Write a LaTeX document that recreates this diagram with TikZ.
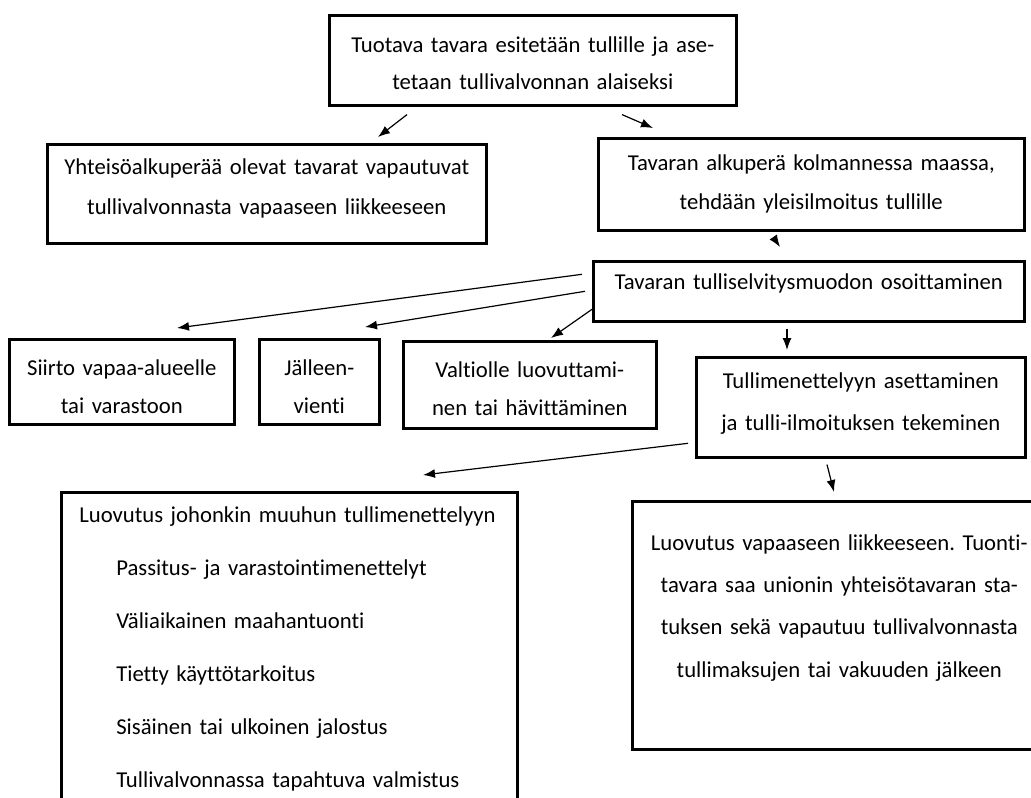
\documentclass[tikz,border=0pt]{standalone}
\usepackage{fontspec}
\setmainfont{Carlito}[Ligatures=NoCommon]
\usetikzlibrary{arrows.meta}

\tikzset{
  box/.style={draw, line width=2.6pt, anchor=north west, inner sep=0pt,
    align=center, font=\fontsize{22.7}{40}\selectfont},
  lines/.style={font=\fontsize{22.7}{#1}\selectfont},
  arr/.style={-{Latex[length=12pt,width=9pt]}, line width=1.2pt}
}

\begin{document}
\frenchspacing
\begin{tikzpicture}[x=1pt, y=-1pt]
        \path[use as bounding box, fill=white] (0,0) rectangle (1031,798);
        \clip (0,0) rectangle (1031,798);

        % upper part
        \node[box, text width=407pt, text height=37pt, text depth=53pt, lines=37] (tuonti) at (328,14)
            {Tuotava tavara esitetään tullille ja ase-\\tetaan tullivalvonnan alaiseksi};
        \node[box, text width=439pt, text height=30pt, text depth=69pt] (yhteiso) at (46,143)
            {Yhteisöalkuperää olevat tavarat vapautuvat\\tullivalvonnasta vapaaseen liikkeeseen};
        \node[box, text width=426pt, text height=32pt, text depth=60pt, lines=39] (alkupera) at (597,137)
            {Tavaran alkuperä kolmannessa maassa,\\tehdään yleisilmoitus tullille};
        \node[box, text width=431pt, text height=28pt, text depth=32pt] (selvitys) at (592,260)
            {Tavaran tulliselvitysmuodon osoittaminen};

        % middle row
        \node[box, text width=225pt, text height=36pt, text depth=49pt, lines=38] (siirto) at (8,338)
            {Siirto vapaa-alueelle\\tai varastoon};
        \node[box, text width=120pt, text height=36pt, text depth=49pt, lines=38] (jalleen) at (258,338)
            {Jälleen-\\vienti};
        \node[box, text width=253pt, text height=36pt, text depth=51pt, lines=38] (valtio) at (402,340)
            {Valtiolle luovuttami-\\nen tai hävittäminen};
        \node[box, text width=329pt, text height=31pt, text depth=69pt, lines=42] (menettely) at (695,356)
            {Tullimenettelyyn asettaminen\\ja tulli-ilmoituksen tekeminen};

        % lower part
        \node[box, text width=420pt, align=left, inner xsep=18pt, text height=30pt, text depth=320pt,
              lines=53] (muu) at (60,491)
            {Luovutus johonkin muuhun tullimenettelyyn\\
             \hspace*{37pt}Passitus- ja varastointimenettelyt\\
             \hspace*{37pt}Väliaikainen maahantuonti\\
             \hspace*{37pt}Tietty käyttötarkoitus\\
             \hspace*{37pt}Sisäinen tai ulkoinen jalostus\\
             \hspace*{37pt}Tullivalvonnassa tapahtuva valmistus};
        \node[box, text width=414pt, text height=49pt, text depth=199pt, lines=42.3] (vapaa) at (631,500)
            {Luovutus vapaaseen liikkeeseen. Tuonti-\\tavara saa unionin yhteisötavaran sta-\\tuksen sekä vapautuu tullivalvonnasta\\tullimaksujen tai vakuuden jälkeen};

        % arrows
        \draw[arr] ([shift={(79,8)}]tuonti.south west) -- ([shift={(332,-6)}]yhteiso.north west);
        \draw[arr] ([shift={(294,8)}]tuonti.south west) -- ([shift={(56,-9)}]alkupera.north west);
        \draw[arr] ([shift={(178,8)}]alkupera.south west) -- ([shift={(188,-13)}]selvitys.north west);
        \draw[arr] ([shift={(-10,-17)}]selvitys.west) -- ([shift={(169,-10)}]siirto.north west);
        \draw[arr] ([shift={(-7,0)}]selvitys.west) -- ([shift={(107,-11)}]jalleen.north west);
        \draw[arr] ([shift={(0,18)}]selvitys.west) -- ([shift={(149,-2)}]valtio.north west);
        \draw[arr] ([shift={(195,6)}]selvitys.south west) -- ([shift={(92,-6)}]menettely.north west);
        \draw[arr] ([shift={(-7,36)}]menettely.west) -- ([shift={(363,-16)}]muu.north west);
        \draw[arr] ([shift={(132,6)}]menettely.south west) -- ([shift={(203,-8)}]vapaa.north west);
\end{tikzpicture}
\end{document}
